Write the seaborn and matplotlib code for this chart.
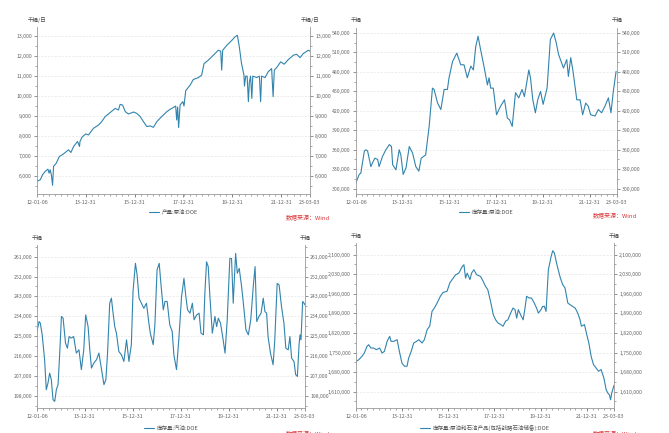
#Four DOE panels: crude output, crude stocks, gasoline stocks, total stocks

import numpy as np
import pandas as pd
import seaborn as sns
import matplotlib
matplotlib.use("Agg")
import matplotlib.pyplot as plt
import matplotlib.dates as mdates
from matplotlib.ticker import FuncFormatter, AutoMinorLocator, MultipleLocator

#Crude production, thousand barrels / day (decimal year, value)
prod_year = [2012.01, 2012.15, 2012.24, 2012.35, 2012.46, 2012.51, 2012.55, 2012.60, 2012.65, 2012.69,
             2012.80, 2012.93, 2013.10, 2013.30, 2013.40, 2013.51, 2013.67, 2013.75, 2013.77, 2013.85,
             2014.00, 2014.12, 2014.32, 2014.53, 2014.66, 2014.80, 2015.00, 2015.21, 2015.34, 2015.41,
             2015.51, 2015.62, 2015.75, 2015.96, 2016.09, 2016.23, 2016.36, 2016.50, 2016.64, 2016.77,
             2016.91, 2017.11, 2017.32, 2017.45, 2017.59, 2017.68, 2017.72, 2017.76, 2017.80, 2017.86,
             2017.97, 2018.02, 2018.09, 2018.27, 2018.40, 2018.61, 2018.74, 2018.84, 2019.01, 2019.22,
             2019.42, 2019.52, 2019.56, 2019.60, 2019.77, 2020.00, 2020.10, 2020.20, 2020.28, 2020.37,
             2020.47, 2020.49, 2020.54, 2020.60, 2020.65, 2020.69, 2020.74, 2020.79, 2020.83, 2020.99,
             2021.10, 2021.15, 2021.19, 2021.33, 2021.46, 2021.60, 2021.66, 2021.71, 2021.83, 2021.97,
             2022.11, 2022.28, 2022.49, 2022.62, 2022.76, 2022.89, 2023.00, 2023.10, 2023.17]
prod_val = [5720, 5800, 6050, 6220, 6330, 6130, 6300, 6050, 5520, 6470,
            6630, 6970, 7100, 7300, 7170, 7470, 7720, 7470, 7720, 7930,
            8100, 8050, 8380, 8550, 8720, 8970, 9170, 9380, 9300, 9580,
            9550, 9220, 9100, 9200, 9130, 8970, 8720, 8470, 8500, 8430,
            8720, 8970, 9220, 9330, 9430, 9500, 8800, 9450, 8420, 9550,
            9720, 9500, 10270, 10550, 10830, 10930, 11050, 11630, 11800, 12050,
            12300, 12250, 11300, 12300, 12550, 12830, 12970, 13050, 12470, 11630,
            11050, 10500, 11000, 11000, 9720, 10700, 11000, 9880, 11000, 10930,
            11000, 9720, 11000, 10930, 11220, 11380, 9970, 11300, 11470, 11720,
            11600, 11830, 12050, 12100, 11930, 12130, 12220, 12300, 12250]

#Crude stocks, thousand barrels
crude_year = [2012.01, 2012.15, 2012.22, 2012.37, 2012.44, 2012.51, 2012.65, 2012.72, 2012.82, 2012.94,
              2013.00, 2013.15, 2013.29, 2013.44, 2013.53, 2013.58, 2013.72, 2013.86, 2013.93, 2014.03,
              2014.15, 2014.29, 2014.43, 2014.57, 2014.70, 2014.80, 2014.99, 2015.14, 2015.28, 2015.35,
              2015.50, 2015.64, 2015.78, 2015.92, 2015.99, 2016.14, 2016.32, 2016.49, 2016.63, 2016.77,
              2016.92, 2017.03, 2017.13, 2017.23, 2017.34, 2017.48, 2017.63, 2017.70, 2017.77, 2017.88,
              2018.02, 2018.19, 2018.36, 2018.48, 2018.58, 2018.69, 2018.83, 2018.97, 2019.11, 2019.21,
              2019.40, 2019.47, 2019.57, 2019.68, 2019.78, 2019.90, 2020.01, 2020.18, 2020.32, 2020.46,
              2020.57, 2020.67, 2020.88, 2021.02, 2021.09, 2021.19, 2021.28, 2021.45, 2021.59, 2021.70,
              2021.83, 2021.94, 2022.04, 2022.23, 2022.37, 2022.51, 2022.65, 2022.80, 2022.91, 2023.01,
              2023.13]
crude_val = [309, 322, 324, 358, 360, 358, 334, 340, 347, 345,
             334, 350, 360, 368, 365, 337, 329, 360, 352, 322,
             332, 365, 355, 334, 327, 347, 352, 396, 455, 453,
             432, 422, 453, 453, 471, 496, 509, 491, 491, 471,
             489, 483, 519, 535, 514, 489, 460, 471, 455, 455,
             414, 427, 437, 409, 406, 396, 448, 440, 453, 442,
             483, 471, 437, 417, 437, 450, 430, 455, 530, 540,
             525, 507, 486, 499, 473, 502, 483, 437, 437, 414,
             432, 427, 414, 412, 422, 417, 427, 440, 417, 450,
             481]

#Gasoline stocks, thousand barrels
gas_year = [2012.01, 2012.10, 2012.15, 2012.23, 2012.33, 2012.40, 2012.47, 2012.54, 2012.61, 2012.68,
            2012.75, 2012.82, 2012.89, 2012.96, 2013.03, 2013.10, 2013.20, 2013.28, 2013.35, 2013.44,
            2013.54, 2013.65, 2013.76, 2013.86, 2013.96, 2014.04, 2014.14, 2014.21, 2014.28, 2014.38,
            2014.49, 2014.59, 2014.70, 2014.80, 2014.88, 2014.95, 2015.04, 2015.11, 2015.18, 2015.25,
            2015.32, 2015.42, 2015.53, 2015.63, 2015.74, 2015.84, 2015.94, 2016.01, 2016.11, 2016.18,
            2016.26, 2016.36, 2016.46, 2016.57, 2016.67, 2016.73, 2016.85, 2016.92, 2017.01, 2017.10,
            2017.17, 2017.27, 2017.34, 2017.43, 2017.54, 2017.64, 2017.71, 2017.82, 2017.92, 2018.03,
            2018.13, 2018.20, 2018.28, 2018.38, 2018.48, 2018.55, 2018.66, 2018.76, 2018.84, 2018.94,
            2019.00, 2019.07, 2019.14, 2019.21, 2019.31, 2019.42, 2019.49, 2019.56, 2019.65, 2019.74,
            2019.84, 2019.93, 2020.04, 2020.11, 2020.18, 2020.28, 2020.35, 2020.43, 2020.53, 2020.63,
            2020.71, 2020.81, 2020.91, 2021.02, 2021.09, 2021.16, 2021.25, 2021.34, 2021.43, 2021.50,
            2021.57, 2021.63, 2021.73, 2021.84, 2021.91, 2022.01, 2022.09, 2022.19, 2022.29, 2022.37,
            2022.47, 2022.54, 2022.61, 2022.71, 2022.78, 2022.85, 2022.92, 2022.96, 2023.00, 2023.07,
            2023.13, 2023.17]
gas_val = [227.1, 231.6, 230.9, 225.6, 214.3, 200.7, 203.7, 208.2, 205.2, 196.2,
           195.4, 200.7, 203.0, 217.3, 233.9, 233.1, 221.8, 219.5, 224.8, 224.1,
           224.8, 217.3, 218.8, 209.8, 218.8, 234.6, 229.3, 218.8, 210.5, 212.8,
           214.3, 217.3, 209.8, 203.0, 205.2, 217.3, 239.9, 242.2, 235.4, 229.3,
           226.3, 218.0, 216.5, 213.5, 223.3, 213.5, 221.1, 245.2, 258.0, 252.7,
           242.2, 239.9, 237.6, 239.9, 230.9, 226.3, 221.1, 230.1, 255.0, 258.0,
           248.9, 236.9, 240.7, 240.7, 230.1, 227.1, 216.5, 209.8, 224.1, 242.9,
           251.2, 243.7, 236.9, 235.4, 239.9, 232.4, 234.6, 235.4, 226.3, 225.6,
           244.4, 258.7, 256.5, 242.9, 226.3, 233.9, 229.3, 233.1, 230.9, 224.8,
           217.3, 232.4, 260.2, 260.2, 239.9, 262.5, 253.5, 255.7, 247.4, 236.9,
           227.8, 225.6, 232.4, 248.2, 256.5, 231.6, 233.9, 235.4, 242.2, 236.1,
           235.4, 224.8, 217.3, 212.0, 223.3, 248.9, 248.2, 238.4, 230.9, 219.5,
           218.8, 224.8, 215.0, 213.5, 207.5, 206.7, 221.1, 225.6, 223.3, 240.7,
           239.9, 239.1]

#Crude oil and petroleum products incl. SPR, thousand barrels
total_year = [2012.01, 2012.13, 2012.27, 2012.37, 2012.49, 2012.56, 2012.66, 2012.78, 2012.89, 2013.04,
              2013.14, 2013.24, 2013.36, 2013.47, 2013.53, 2013.65, 2013.79, 2013.89, 2014.00, 2014.11,
              2014.22, 2014.29, 2014.40, 2014.51, 2014.63, 2014.73, 2014.87, 2014.97, 2015.09, 2015.20,
              2015.30, 2015.40, 2015.52, 2015.66, 2015.78, 2015.95, 2016.07, 2016.17, 2016.32, 2016.46,
              2016.61, 2016.68, 2016.75, 2016.82, 2016.94, 2017.01, 2017.11, 2017.23, 2017.40, 2017.51,
              2017.61, 2017.71, 2017.83, 2017.95, 2018.05, 2018.15, 2018.27, 2018.37, 2018.48, 2018.58,
              2018.70, 2018.80, 2018.89, 2018.96, 2019.03, 2019.13, 2019.24, 2019.31, 2019.39, 2019.50,
              2019.60, 2019.72, 2019.82, 2019.90, 2020.01, 2020.08, 2020.16, 2020.23, 2020.33, 2020.45,
              2020.52, 2020.59, 2020.70, 2020.85, 2020.95, 2021.05, 2021.17, 2021.27, 2021.38, 2021.49,
              2021.60, 2021.70, 2021.76, 2021.89, 2021.99, 2022.08, 2022.18, 2022.28, 2022.39, 2022.50,
              2022.61, 2022.73, 2022.83, 2022.90, 2022.97, 2023.02, 2023.07, 2023.17]
total_val = [1718, 1724, 1736, 1748, 1772, 1778, 1766, 1766, 1760, 1766,
             1748, 1754, 1790, 1808, 1790, 1790, 1796, 1754, 1712, 1701,
             1701, 1730, 1754, 1784, 1790, 1796, 1784, 1796, 1832, 1844,
             1897, 1909, 1927, 1951, 1965, 1969, 1999, 2011, 2028, 2034,
             2058, 2064, 2016, 2034, 2011, 2034, 2046, 2028, 2022, 2005,
             1987, 1975, 1933, 1885, 1867, 1856, 1850, 1844, 1862, 1867,
             1891, 1909, 1903, 1873, 1903, 1885, 1867, 1903, 1951, 1945,
             1945, 1927, 1909, 1891, 1903, 1915, 1915, 1897, 2046, 2094,
             2114, 2106, 2064, 2016, 1993, 1981, 1927, 1921, 1915, 1909,
             1891, 1867, 1844, 1850, 1814, 1784, 1736, 1707, 1695, 1683,
             1689, 1659, 1617, 1605, 1599, 1581, 1605, 1633]

#Axis text
date_ticks = ["2012-01-06", "2013-12-31", "2015-12-31", "2017-12-31", "2019-12-31", "2021-12-31", "2023-03-03"]
units = ["千桶/日", "千桶", "千桶", "千桶"]
legends = ["产量:原油:DOE", "库存量:原油:DOE", "库存量:汽油:DOE", "库存量:原油和石油产品(包括战略石油储备):DOE"]
source = "数据来源：Wind"

sns.set_style("white")
plt.rcParams['font.family'] = ['Noto Sans CJK SC', 'DejaVu Sans']

W, H = 669, 433
LINE = "#3184ad"
GREY = "#666666"


def to_dates(years):
    years = np.asarray(years, dtype=float)
    return pd.to_datetime("2012-01-01") + pd.to_timedelta((years - 2012) * 365.25, unit="D")


def fx(x):
    return x / W


def fy(y):
    return 1 - y / H


fig = plt.figure(figsize=(W / 100, H / 100), dpi=100)

#left, right, top, bottom in pixels; y limits; y step
panels = [
    dict(box=(37, 310, 27, 194), ylim=(5083, 13467), step=1000, years=prod_year, vals=prod_val, scale=1),
    dict(box=(356, 617, 28, 194), ylim=(291800, 547700), step=30000, years=crude_year, vals=crude_val, scale=1000),
    dict(box=(37, 305, 245, 408), ylim=(192400, 266300), step=9000, years=gas_year, vals=gas_val, scale=1000),
    dict(box=(356, 614, 243, 408), ylim=(1551600, 2141700), step=70000, years=total_year, vals=total_val, scale=1000),
]
tick_dates = pd.to_datetime(date_ticks)
x_lo = pd.to_datetime("2012-01-06")
x_hi = pd.to_datetime("2023-03-03")

for i, p in enumerate(panels):
    l, r, t, b = p["box"]
    ax = fig.add_axes([fx(l), fy(b), fx(r - l), (b - t) / H])
    df = pd.DataFrame({"date": to_dates(p["years"]),
                       "value": np.asarray(p["vals"], dtype=float) * p["scale"]})
    sns.lineplot(data=df, x="date", y="value", ax=ax, color=LINE, linewidth=0.8, label=legends[i])

    ax.set_xlim(x_lo, x_hi)
    ax.set_ylim(*p["ylim"])
    ax.set_xlabel("")
    ax.set_ylabel("")

    ax.yaxis.set_major_locator(MultipleLocator(p["step"]))
    ax.yaxis.set_minor_locator(AutoMinorLocator(2))
    ax.yaxis.set_major_formatter(FuncFormatter(lambda v, pos: f"{v:,.0f}"))
    ax.set_xticks(tick_dates)
    ax.set_xticklabels([d.strftime("%y-%m-%d") for d in tick_dates])
    ax.xaxis.set_minor_locator(mdates.MonthLocator(bymonth=[1, 4, 7, 10]))

    ax.tick_params(axis="y", which="both", left=True, right=True, labelleft=True, labelright=True,
                   labelsize=3.7, colors=GREY, pad=1.2)
    ax.tick_params(axis="x", which="both", bottom=True, labelsize=3.9, colors=GREY, pad=1.5)
    ax.tick_params(which="major", length=2.5, width=0.5)
    ax.tick_params(which="minor", length=1.5, width=0.4)

    ax.grid(axis="y", which="major", color="#e4e4e4", linestyle=(0, (3, 2)), linewidth=0.5)
    ax.spines["top"].set_visible(False)
    for s in ["left", "right", "bottom"]:
        ax.spines[s].set_color("#9a9a9a")
        ax.spines[s].set_linewidth(0.6)

    leg_y = -(20 if i >= 2 else 18) / (b - t)
    leg = ax.legend(loc="center", bbox_to_anchor=(0.5, leg_y), frameon=False, fontsize=4,
                    handlelength=1.8, handletextpad=0.5)
    for txt in leg.get_texts():
        txt.set_color("#555555")

    #unit labels above both y axes
    fig.text(fx(l), fy(t - 7), units[i], fontsize=4, color="#444444", ha="center", va="center")
    fig.text(fx(r), fy(t - 7), units[i], fontsize=4, color="#444444", ha="center", va="center")

#data source notes (the lower two are cut by the bottom edge, as in the screenshot)
fig.text(fx(330), fy(218), source, fontsize=4.3, color="#d9383a", ha="right", va="center")
fig.text(fx(637), fy(216), source, fontsize=4.3, color="#d9383a", ha="right", va="center")
fig.text(fx(330), fy(431), source, fontsize=4.3, color="#d9383a", ha="right", va="top")
fig.text(fx(637), fy(431), source, fontsize=4.3, color="#d9383a", ha="right", va="top")

plt.savefig("out.png", dpi=100)
